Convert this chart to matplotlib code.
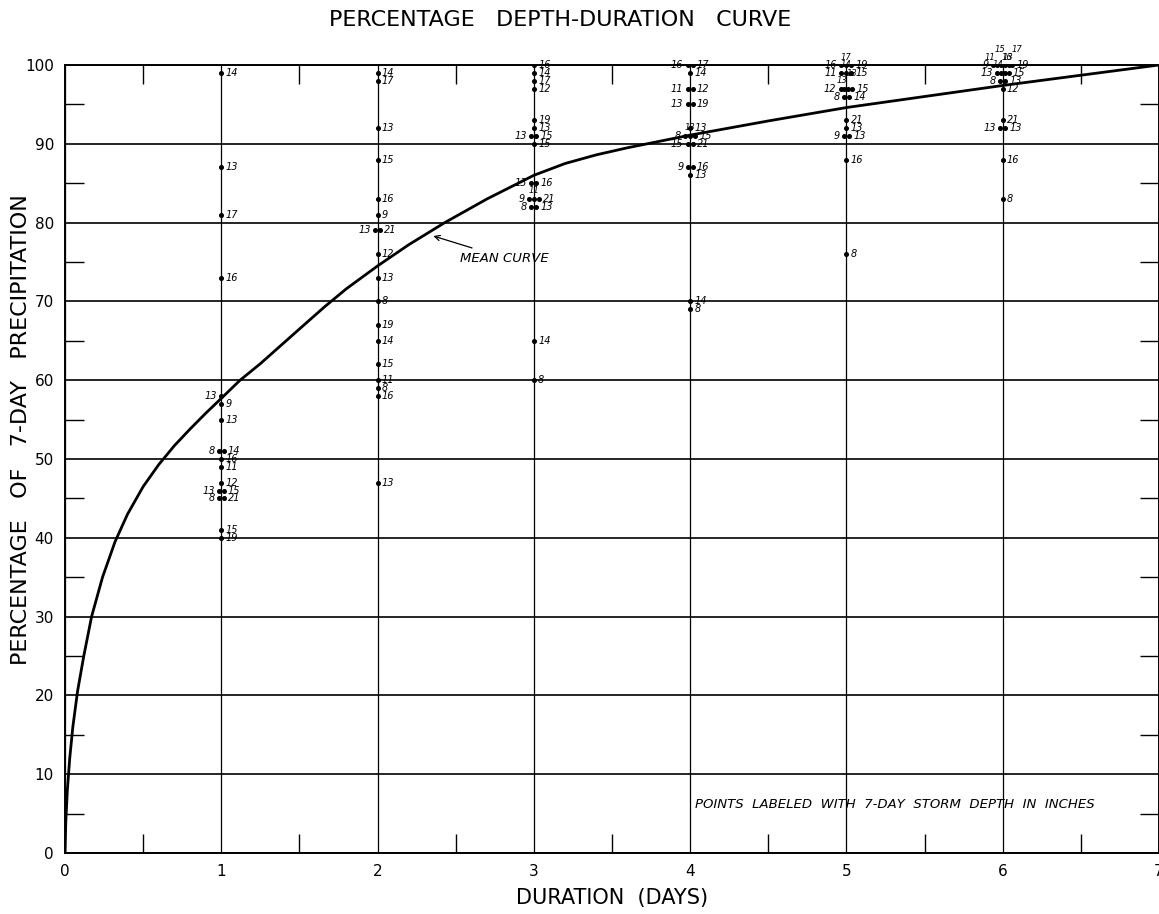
import matplotlib
matplotlib.use("Agg")
from matplotlib import pyplot as plt
from matplotlib.ticker import MultipleLocator
from matplotlib.transforms import ScaledTranslation

# mean curve
curve_days = [0, 0.005, 0.015, 0.03, 0.05, 0.08, 0.12, 0.17, 0.24, 0.32, 0.4, 0.5, 0.6,
              0.7, 0.8, 0.9, 1.0, 1.12, 1.25, 1.5, 1.66, 1.8, 2.0, 2.2, 2.43, 2.7,
              3.0, 3.2, 3.4, 3.6, 3.8, 4.0, 4.5, 5.0, 5.5, 6.0, 6.5, 7.0]
curve_pct = [0, 4, 8, 12, 16, 20.5, 25, 30, 35, 39.5, 43, 46.5, 49.3,
             51.7, 53.8, 55.8, 57.7, 60, 62.1, 66.5, 69.3, 71.6, 74.5, 77.2, 80, 83,
             86, 87.5, 88.6, 89.5, 90.3, 91.1, 92.9, 94.6, 96, 97.4, 98.7, 100]

# storm points: percentage of 7-day precipitation and 7-day storm depth (inches)
day1_pct = [99, 87, 81, 73, 58, 57, 55, 51, 51, 50, 49, 47, 46, 46, 45, 45, 41, 40]
day1_depth = [14, 13, 17, 16, 13, 9, 13, 8, 14, 16, 11, 12, 13, 15, 8, 21, 15, 19]

day2_pct = [99, 98, 92, 88, 83, 81, 79, 79, 76, 73, 70, 67, 65, 62, 60, 59, 58, 47]
day2_depth = [14, 17, 13, 15, 16, 9, 13, 21, 12, 13, 8, 19, 14, 15, 11, 8, 16, 13]

day3_pct = [100, 99, 98, 97, 93, 92, 91, 91, 90, 85, 85, 83, 83, 83, 82, 82, 65, 60]
day3_depth = [16, 14, 17, 12, 19, 13, 13, 15, 15, 13, 16, 9, 11, 21, 8, 13, 14, 8]

day4_pct = [100, 100, 99, 97, 97, 95, 95, 92, 91, 91, 91, 90, 90, 87, 87, 86, 70, 69]
day4_depth = [16, 17, 14, 11, 12, 13, 19, 13, 8, 13, 15, 15, 21, 9, 16, 13, 14, 8]

day5_pct = [100, 100, 100, 99, 99, 99, 97, 97, 97, 97, 96, 96, 93, 92, 91, 91, 88, 76]
day5_depth = [16, 17, 19, 11, 14, 15, 12, 13, 13, 15, 8, 14, 21, 13, 9, 13, 16, 8]

day6_pct = [100, 100, 100, 100, 100, 100, 99, 99, 99, 99, 98, 98, 97, 93, 92, 92, 88, 83]
day6_depth = [9, 11, 15, 16, 17, 19, 13, 14, 13, 15, 8, 13, 12, 21, 13, 13, 16, 8]

days = [1, 2, 3, 4, 5, 6]
pct_by_day = [day1_pct, day2_pct, day3_pct, day4_pct, day5_pct, day6_pct]
depth_by_day = [day1_depth, day2_depth, day3_depth, day4_depth, day5_depth, day6_depth]

# single points whose label sits on the left of the dot
left_labels = {(1, 58)}

fig = plt.figure(figsize=(11.59, 9.14), dpi=100)
ax = fig.add_axes([0.0561, 0.0667, 0.9439, 0.8622])

ax.set_xlim(0, 7)
ax.set_ylim(0, 100)
ax.xaxis.set_major_locator(MultipleLocator(1))
ax.xaxis.set_minor_locator(MultipleLocator(0.5))
ax.yaxis.set_major_locator(MultipleLocator(10))
ax.yaxis.set_minor_locator(MultipleLocator(5))
ax.grid(which="major", axis="y", color="black", linewidth=1.2)
ax.grid(which="major", axis="x", color="black", linewidth=0.9)
ax.tick_params(which="both", direction="in", top=True, right=True, colors="black")
ax.tick_params(which="major", length=0, labelsize=11, pad=8)
ax.tick_params(which="minor", length=14, width=1.0)
for s in ax.spines.values():
    s.set_linewidth(1.4)

ax.plot(curve_days, curve_pct, color="black", linewidth=2.0, zorder=3,
        solid_joinstyle="round")

for d, pcts, depths in zip(days, pct_by_day, depth_by_day):
    groups = {}
    for p, dep in zip(pcts, depths):
        groups.setdefault(p, []).append(dep)
    for p, labs in groups.items():
        n = len(labs)
        step = 3.6 if n < 4 else 2.8
        for i, lab in enumerate(labs):
            dx = (i - (n - 1) / 2) * step
            ax.plot(d, p, "o", color="black", markersize=2.6, zorder=4,
                    transform=ax.transData + ScaledTranslation(dx / 72, 0, fig.dpi_scale_trans))
            if n == 1:
                side = "left" if (d, p) in left_labels else "right"
            elif i == 0:
                side = "left"
            elif i == n - 1:
                side = "right"
            else:
                side = "up" if i % 2 else "up2"
            if side == "right":
                off, ha, va = (dx + 3, 0), "left", "center"
            elif side == "left":
                off, ha, va = (dx - 3, 0), "right", "center"
            elif side == "up":
                off, ha, va = (dx * 2.2, 2.5), "center", "bottom"
            else:
                off, ha, va = (dx * 2.2 + 1, 8), "center", "bottom"
            ax.annotate(str(lab), (d, p), xytext=off, textcoords="offset points",
                        ha=ha, va=va, fontsize=6 if side.startswith("up") else 7,
                        style="italic", zorder=5, annotation_clip=False)

ax.annotate("MEAN CURVE", xy=(2.34, 78.4), xytext=(2.53, 75.5),
            fontsize=9.5, style="italic", va="center", ha="left",
            arrowprops=dict(arrowstyle="->", color="black", lw=0.9))

ax.text(4.03, 6.1, "POINTS  LABELED  WITH  7-DAY  STORM  DEPTH  IN  INCHES",
        fontsize=9.5, style="italic", va="center", ha="left")

fig.text(0.483, 0.978, "PERCENTAGE   DEPTH-DURATION   CURVE", fontsize=16,
         ha="center", va="center")
fig.text(0.528, 0.018, "DURATION  (DAYS)", fontsize=15, ha="center", va="center")
fig.text(0.018, 0.53, "PERCENTAGE   OF   7-DAY   PRECIPITATION", fontsize=16,
         rotation=90, ha="center", va="center")

fig.savefig("out.png", dpi=100)
